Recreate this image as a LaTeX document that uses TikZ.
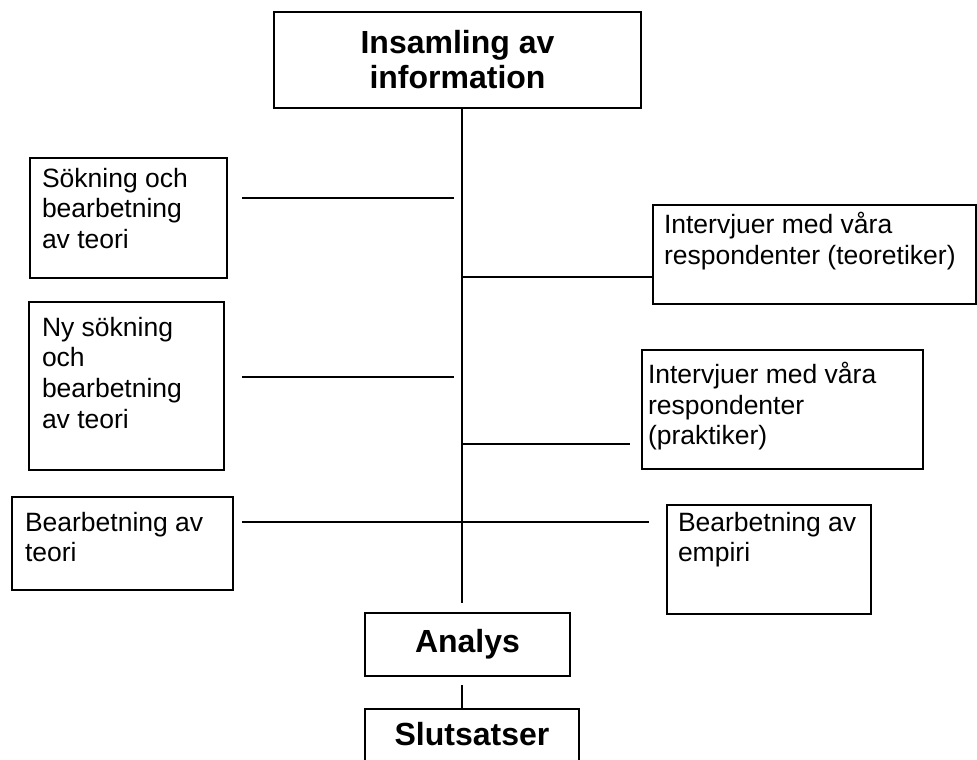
\documentclass[tikz,border=0pt]{standalone}
\usepackage{fontspec}
\setmainfont{Liberation Sans}
\usetikzlibrary{calc}
\newcommand{\bxtext}[4]{\parbox[c][#2][t]{#1}{\vspace*{#3}\raggedright #4}}
\tikzset{
  box/.style={draw, line width=2pt, rectangle, inner ysep=0pt, anchor=north west,
    font=\fontsize{26.5}{30.7}\selectfont},
  title/.style={draw, line width=2pt, rectangle, inner sep=0pt, align=center,
    font=\fontsize{32}{35}\selectfont\bfseries},
  conn/.style={line width=1.6pt}
}
\begin{document}
\begin{tikzpicture}[x=1pt,y=-1pt]
\useasboundingbox (0,0) rectangle (977,760);
\clip (0,0) rectangle (977,760);
% boxes
\node[title, minimum width=367pt, minimum height=96pt] (top) at (457.5,60) {Insamling av\\information};
\node[box, inner xsep=12pt] (A) at (29,157) {\bxtext{173pt}{120pt}{10pt}{Sökning och\\bearbetning\\av teori}};
\node[box, inner xsep=11pt] (B) at (652,204) {\bxtext{301pt}{99pt}{7pt}{Intervjuer med våra\\respondenter (teoretiker)}};
\node[box, inner xsep=13pt] (C) at (28,301) {\bxtext{169pt}{168pt}{15pt}{Ny sökning\\och\\bearbetning\\av teori}};
\node[box, inner xsep=6pt] (D) at (641,349) {\bxtext{269pt}{119pt}{12pt}{Intervjuer med våra\\respondenter\\(praktiker)}};
\node[box, inner xsep=13pt] (E) at (11,496) {\bxtext{195pt}{93pt}{15pt}{Bearbetning av\\teori}};
\node[box, inner xsep=11pt] (F) at (666,504) {\bxtext{182pt}{109pt}{7pt}{Bearbetning av\\empiri}};
\node[title, minimum width=205pt, minimum height=63pt] (analys) at (467.5,644.5) {Analys};
\node[draw, line width=2pt, rectangle, inner sep=0pt, anchor=north,
  font=\fontsize{32}{35}\selectfont\bfseries] (slut) at (472,708)
  {\parbox[c][80pt][t]{214pt}{\centering\vspace*{13pt}Slutsatser}};
% connector points
\coordinate (t1) at (454,198);
\coordinate (t2) at (454,377);
\coordinate (j3) at (462,277);
\coordinate (j4) at (462,444);
\coordinate (j5) at (462,522);
\coordinate (tend) at (462,603);
\coordinate (c1) at (462,685);
% connectors
\draw[conn] (tend |- top.south) -- (tend);
\draw[conn] ($(A.east |- t1)+(14,0)$) -- (t1);
\draw[conn] ($(C.east |- t2)+(17,0)$) -- (t2);
\draw[conn] (j3) -- (j3 -| B.west);
\draw[conn] (j4) -- ($(j4 -| D.west)+(-11,0)$);
\draw[conn] ($(E.east |- j5)+(8,0)$) -- ($(F.west |- j5)+(-17,0)$);
\draw[conn] (c1) -- (c1 |- slut.north);
\end{tikzpicture}
\end{document}
